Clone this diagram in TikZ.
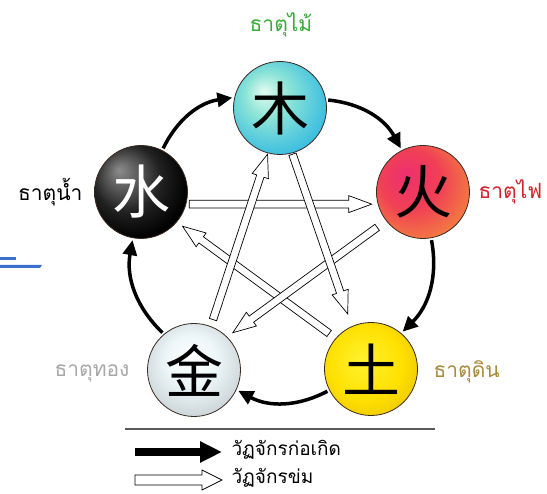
\documentclass[tikz,border=0pt]{standalone}
\usepackage{fontspec}
\usetikzlibrary{arrows.meta,calc}
\newfontfamily\cjk{Noto Sans CJK SC}
\newfontfamily\thai[Script=Thai]{Loma}
\definecolor{woodlab}{HTML}{3AAA3A}
\definecolor{firelab}{HTML}{D4202A}
\definecolor{earthlab}{HTML}{A88A40}
\definecolor{metallab}{HTML}{A8A8A8}
\definecolor{rimcol}{HTML}{3A2A20}
\definecolor{bluebar}{HTML}{3A6FD0}
\pgfdeclareradialshading{woodsh}{\pgfpoint{-9bp}{9bp}}{color(0bp)=(rgb,255:red,226;green,251;blue,240); color(12bp)=(rgb,255:red,140;green,228;blue,214); color(32bp)=(rgb,255:red,48;green,184;blue,226); color(50bp)=(rgb,255:red,48;green,176;blue,226)}
\pgfdeclareradialshading{firesh}{\pgfpoint{-10bp}{10bp}}{color(0bp)=(rgb,255:red,238;green,47;blue,112); color(16bp)=(rgb,255:red,240;green,64;blue,85); color(36bp)=(rgb,255:red,245;green,144;blue,58); color(50bp)=(rgb,255:red,245;green,144;blue,58)}
\pgfdeclareradialshading{earthsh}{\pgfpoint{-5bp}{5bp}}{color(0bp)=(rgb,255:red,255;green,242;blue,48); color(20bp)=(rgb,255:red,255;green,224;blue,0); color(34bp)=(rgb,255:red,232;green,192;blue,0); color(50bp)=(rgb,255:red,232;green,192;blue,0)}
\pgfdeclareradialshading{metalsh}{\pgfpoint{-2bp}{7bp}}{color(0bp)=(rgb,255:red,255;green,255;blue,255); color(14bp)=(rgb,255:red,236;green,246;blue,248); color(32bp)=(rgb,255:red,196;green,204;blue,208); color(50bp)=(rgb,255:red,176;green,184;blue,188)}
\pgfdeclareradialshading{watersh}{\pgfpoint{-12bp}{12bp}}{color(0bp)=(rgb,255:red,140;green,140;blue,140); color(18bp)=(rgb,255:red,34;green,34;blue,34); color(30bp)=(rgb,255:red,0;green,0;blue,0); color(50bp)=(rgb,255:red,0;green,0;blue,0)}
\newcommand\hollowarr[7]{%
  \coordinate (hs) at ($(#1)!#3!(#2)$);
  \coordinate (he) at ($(#2)!#4!(#1)$);
  \coordinate (hb) at ($(he)!#7!(hs)$);
  \draw[hollow] ($(hs)!#5!90:(he)$) -- ($(hb)!#5!-90:(hs)$) -- ($(hb)!#6!-90:(hs)$) -- (he)
    -- ($(hb)!#6!90:(hs)$) -- ($(hb)!#5!90:(hs)$) -- ($(hs)!#5!-90:(he)$) -- cycle;}
\begin{document}
\begin{tikzpicture}[x=1pt,y=1pt,
  elem/.style={circle,draw=rimcol,line width=0.8pt,minimum size=93pt,inner sep=0pt,
    font=\cjk\fontsize{58}{58}\selectfont},
  lab/.style={font=\thai\fontsize{21}{24}\selectfont},
  legtext/.style={font=\thai\fontsize{19}{22}\selectfont,anchor=west},
  gen/.style={line width=3.5pt,-{Triangle[length=15pt,width=14pt]},shorten <=2pt,shorten >=2pt},
  hollow/.style={draw=black,line width=0.7pt,fill=white,line join=miter}]
\useasboundingbox (0,0) rectangle (547,494);
\fill[white] (0,0) rectangle (547,494);
% elements
\node[elem,shading=woodsh] (wood) at (280,386) {木};
\node[elem,shading=firesh] (fire) at (423,302) {火};
\node[elem,shading=earthsh] (earth) at (371,125) {土};
\node[elem,shading=metalsh] (metal) at (194,124) {金};
\node[elem,shading=watersh,text=white] (water) at (141,302) {水};
% labels
\node[lab,text=woodlab] (lwood) at (281,469) {ธาตุไม้};
\node[lab,text=firelab,anchor=west] (lfire) at (475,302) {ธาตุไฟ};
\node[lab,text=earthlab,anchor=west] (learth) at (430,122) {ธาตุดิน};
\node[lab,text=metallab,anchor=east] (lmetal) at (133,121) {ธาตุทอง};
\node[lab,text=black,anchor=east] (lwater) at (86,302) {ธาตุน้ำ};
% generating cycle
\draw[gen] (wood.10) to[bend left=28] (fire.117);
\draw[gen] (fire.-80) to[bend left=28] (earth.50);
\draw[gen] (earth.207) to[bend left=28] (metal.-25);
\draw[gen] (metal.130) to[bend left=28] (water.-100);
\draw[gen] (water.63) to[bend left=28] (wood.167);
% controlling cycle
\hollowarr{water.-15}{fire.195}{3pt}{6pt}{3.8pt}{8.5pt}{23pt}
\hollowarr{earth.139}{water.-40}{8pt}{7pt}{3.8pt}{8.5pt}{23pt}
\hollowarr{fire.218}{metal.45}{11pt}{7pt}{3.8pt}{8.5pt}{23pt}
\hollowarr{metal.69}{wood.255}{7pt}{1pt}{3.8pt}{8.5pt}{23pt}
\hollowarr{wood.285}{earth.114}{1pt}{13pt}{3.8pt}{8.5pt}{23pt}
% legend
\coordinate (sepL) at (125,65);
\coordinate (sepR) at (435,65);
\draw[gray!70!black,line width=1.3pt] (sepL) -- (sepR);
\coordinate (g1) at (135,42);
\coordinate (g2) at (222,42);
\draw[line width=8pt,-{Triangle[length=22pt,width=20pt]}] (g1) -- (g2);
\node[legtext] (t1) at (228,44) {วัฏจักรก่อเกิด};
\coordinate (c1) at (135,14);
\coordinate (c2) at (222,14);
\hollowarr{c1}{c2}{0pt}{0pt}{5pt}{10pt}{20pt}
\node[legtext] (t2) at (228,16) {วัฏจักรข่ม};
% stray blue marks at left edge
\fill[bluebar] (0,234) rectangle (16,237);
\fill[bluebar] (0,226) -- (40,226) -- (42,229) -- (0,229) -- cycle;
\end{tikzpicture}
\end{document}
